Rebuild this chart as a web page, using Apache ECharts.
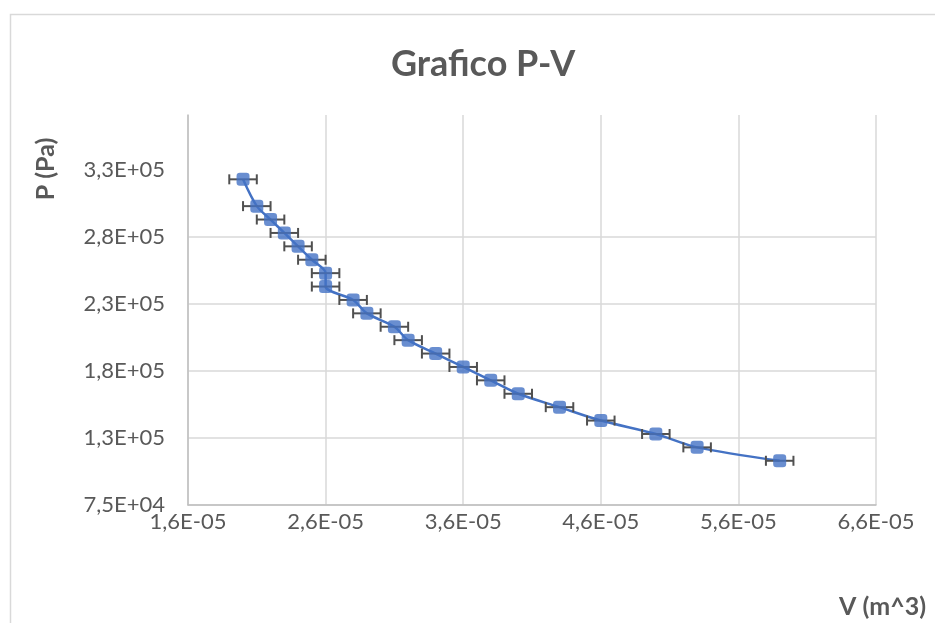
<!DOCTYPE html>
<html>
<head>
<meta charset="utf-8">
<script src="https://cdn.jsdelivr.net/npm/echarts@6/dist/echarts.min.js"></script>
<style>
html,body{margin:0;padding:0;background:#ffffff;}
#chart{width:935px;height:623px;}
</style>
</head>
<body>
<div id="chart"></div>
<script>
// ---- data ----
const volume = [2.0e-5, 2.1e-5, 2.2e-5, 2.3e-5, 2.4e-5, 2.5e-5, 2.6e-5, 2.6e-5, 2.8e-5, 2.9e-5, 3.1e-5,
                3.2e-5, 3.4e-5, 3.6e-5, 3.8e-5, 4.0e-5, 4.3e-5, 4.6e-5, 5.0e-5, 5.3e-5, 5.9e-5];
const pressure = [318000, 298000, 288000, 278000, 268000, 258000, 248000, 238000, 228000, 218000, 208000,
                  198000, 188000, 178000, 168000, 158000, 148000, 138000, 128000, 118000, 108000];
const volumeError = [1e-6, 1e-6, 1e-6, 1e-6, 1e-6, 1e-6, 1e-6, 1e-6, 1e-6, 1e-6, 1e-6,
                     1e-6, 1e-6, 1e-6, 1e-6, 1e-6, 1e-6, 1e-6, 1e-6, 1e-6, 1e-6];
const xTicks = [1.6e-5, 2.6e-5, 3.6e-5, 4.6e-5, 5.6e-5, 6.6e-5];
const xTickLabels = ['1,6E-05', '2,6E-05', '3,6E-05', '4,6E-05', '5,6E-05', '6,6E-05'];
const yTicks = [75000, 125000, 175000, 225000, 275000, 325000];
const yTickLabels = ['7,5E+04', '1,3E+05', '1,8E+05', '2,3E+05', '2,8E+05', '3,3E+05'];
const xRange = [1.6e-5, 6.6e-5];
const yRange = [75000, 366000];
const titleText = 'Grafico P-V';
const xTitle = 'V (m^3)';
const yTitle = 'P (Pa)';

// ---- helpers ----
function lookupLabel(ticks, labels, value) {
  for (let i = 0; i < ticks.length; i++) {
    if (Math.abs(ticks[i] - value) <= Math.abs(ticks[i]) * 1e-6) return labels[i];
  }
  return '';
}
const points = volume.map((v, i) => [v, pressure[i]]);
const errData = volume.map((v, i) => [v, pressure[i], volumeError[i]]);

const TEXT = '#595959';
const FONT = 'Lato, "Noto Sans", sans-serif';
const BLUE = '#4472C4';

const chart = echarts.init(document.getElementById('chart'), null, {renderer: 'canvas'});
chart.setOption({
  animation: false,
  backgroundColor: '#ffffff',
  title: {
    text: titleText,
    left: 386,
    top: 41,
    textStyle: {color: TEXT, fontFamily: FONT, fontSize: 36, fontWeight: 'bold'}
  },
  grid: {left: 188, right: 59, top: 115, bottom: 118, containLabel: false},
  xAxis: {
    type: 'value',
    min: xRange[0],
    max: xRange[1],
    axisLine: {show: true, lineStyle: {color: '#bfbfbf', width: 1.5}},
    axisTick: {show: false, customValues: xTicks},
    axisLabel: {
      customValues: xTicks,
      margin: 6,
      color: TEXT, fontFamily: FONT, fontSize: 22,
      formatter: v => lookupLabel(xTicks, xTickLabels, v)
    },
    splitLine: {show: true, lineStyle: {color: '#d9d9d9', width: 1.5}}
  },
  yAxis: {
    type: 'value',
    min: yRange[0],
    max: yRange[1],
    axisLine: {show: true, lineStyle: {color: '#bfbfbf', width: 1.5}},
    axisTick: {show: false, customValues: yTicks},
    axisLabel: {
      customValues: yTicks,
      margin: 23,
      color: TEXT, fontFamily: FONT, fontSize: 22,
      formatter: v => lookupLabel(yTicks, yTickLabels, v)
    },
    splitLine: {show: true, showMaxLine: false, lineStyle: {color: '#d9d9d9', width: 1.5}}
  },
  graphic: [
    {
      type: 'rect', left: 8, top: 12, z: -10, silent: true,
      shape: {width: 940, height: 620},
      style: {fill: 'none', stroke: '#d9d9d9', lineWidth: 1.5}
    },
    {
      type: 'text', x: 46, y: 169, rotation: Math.PI / 2, silent: true,
      style: {text: yTitle, fill: TEXT, font: 'bold 25px ' + FONT, textAlign: 'center', textVerticalAlign: 'middle'}
    },
    {
      type: 'text', x: 926, y: 607, silent: true,
      style: {text: xTitle, fill: TEXT, font: 'bold 25px ' + FONT, textAlign: 'right', textVerticalAlign: 'middle'}
    }
  ],
  series: [
    {
      type: 'line',
      data: points,
      smooth: 0.3,
      showSymbol: false,
      symbol: 'none',
      lineStyle: {color: BLUE, width: 2.5},
      z: 1
    },
    {
      type: 'custom',
      data: errData,
      encode: {x: 0, y: 1},
      z: 2,
      renderItem: function (params, api) {
        const v = api.value(0), p = api.value(1), e = api.value(2);
        const l = api.coord([v - e, p]);
        const r = api.coord([v + e, p]);
        const h = 5;
        const st = {stroke: '#505050', lineWidth: 2};
        return {
          type: 'group',
          children: [
            {type: 'line', shape: {x1: l[0], y1: l[1], x2: r[0], y2: r[1]}, style: st},
            {type: 'line', shape: {x1: l[0], y1: l[1] - h, x2: l[0], y2: l[1] + h}, style: st},
            {type: 'line', shape: {x1: r[0], y1: r[1] - h, x2: r[0], y2: r[1] + h}, style: st}
          ]
        };
      }
    },
    {
      type: 'scatter',
      data: points,
      symbol: 'roundRect',
      symbolSize: 13,
      itemStyle: {color: BLUE},
      z: 3
    }
  ]
});
</script>
</body>
</html>
